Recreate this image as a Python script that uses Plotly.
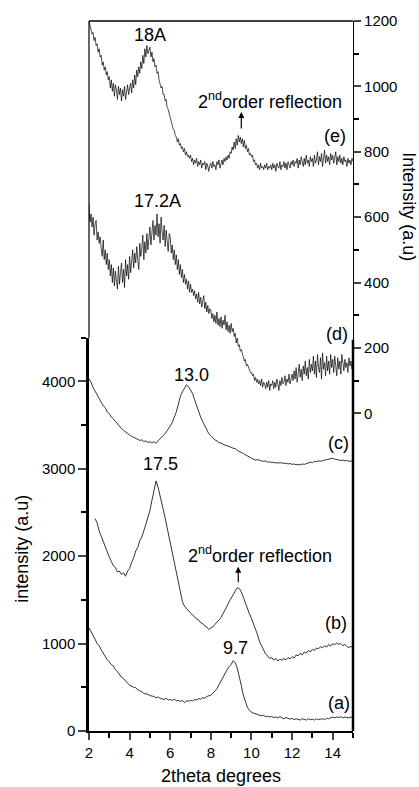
import numpy as np
import plotly.graph_objects as go

# 2theta grids (degrees)
two_theta = np.round(np.arange(2.0, 15.05, 0.1), 2)       # 0.1 step, curves a-c
two_theta_f = np.round(np.arange(2.0, 15.001, 0.05), 2)   # 0.05 step, curves d-e

# (a) - left axis
int_a = [1180,1140,1085,1050,1000,975,930,890,860,815,
         790,760,745,700,680,640,615,600,570,545,
         525,510,500,495,470,460,450,430,425,420,
         405,400,395,380,390,375,370,360,375,355,
         360,350,365,345,350,340,350,325,345,340,
         350,345,360,355,370,365,380,375,395,400,
         410,430,455,485,530,575,610,650,700,735,
         760,805,780,720,630,520,410,325,270,240,
         215,205,195,190,180,175,180,165,170,160,
         165,155,160,150,165,150,140,155,145,135,
         145,130,140,135,125,140,130,125,140,130,
         135,125,140,130,135,140,130,145,140,150,
         160,150,160,155,165,150,160,155,150,160,
         155]

# (b) - left axis, starts at 2.3 deg
int_b = [2430,2380,2290,2230,2160,2100,2030,
         1990,1940,1890,1870,1820,1830,1790,1810,1770,1830,
         1860,1930,1980,2060,2100,2180,2220,2290,2360,2440,
         2520,2640,2760,2860,2790,2700,2580,2490,2380,2270,
         2170,2060,1950,1830,1700,1580,1480,1430,1400,1370,
         1350,1330,1300,1280,1270,1240,1230,1200,1190,1160,
         1180,1190,1220,1240,1270,1300,1340,1380,1430,1480,
         1520,1570,1600,1640,1630,1590,1530,1460,1390,1340,
         1290,1230,1170,1100,1020,970,930,880,860,830,
         840,810,830,800,820,810,830,815,840,825,
         850,835,870,860,890,870,905,890,920,905,
         935,920,950,940,965,950,975,960,990,970,
         1000,985,1010,990,1000,975,990,965,955,970,
         945]

# (c) - left axis
int_c = [4030,3990,3930,3890,3850,3800,3770,3720,3700,3650,
         3630,3590,3570,3540,3510,3480,3460,3440,3420,3400,
         3390,3370,3360,3345,3340,3325,3330,3310,3320,3300,
         3310,3295,3310,3290,3320,3340,3360,3390,3420,3450,
         3490,3530,3580,3650,3740,3830,3880,3920,3960,3940,
         3900,3860,3790,3720,3650,3590,3540,3490,3450,3400,
         3380,3350,3330,3320,3300,3295,3280,3270,3265,3250,
         3245,3235,3230,3210,3200,3190,3175,3160,3150,3135,
         3120,3110,3100,3105,3095,3090,3085,3090,3075,3080,
         3070,3075,3065,3070,3065,3070,3060,3065,3055,3060,
         3050,3055,3045,3050,3045,3055,3050,3060,3065,3075,
         3070,3085,3080,3090,3085,3095,3100,3105,3110,3115,
         3120,3110,3105,3100,3095,3100,3090,3095,3085,3090,
         3085]

# (d) - right axis, 0.05 step
int_d = [640,585,610,570,600,545,580,590,530,555,520,540,505,480,530,470,500,455,490,440,
         470,420,455,400,445,390,435,410,380,450,395,430,460,400,440,385,470,420,455,410,
         480,430,465,500,445,490,460,510,470,440,520,480,505,545,470,525,490,550,500,535,
         570,515,560,590,530,575,545,610,540,580,520,600,555,530,575,510,560,535,495,550,
         540,490,515,470,500,455,485,440,470,425,455,415,440,400,425,395,410,380,405,370,
         395,370,380,360,375,350,365,340,370,335,355,325,345,360,320,340,310,330,305,320,
         315,290,305,280,300,275,310,270,290,265,295,260,285,270,300,255,280,250,270,245,
         275,250,260,235,245,215,230,205,210,190,195,180,175,160,165,145,150,140,135,125,
         125,115,120,100,110,95,105,90,100,85,105,80,95,90,75,95,80,100,70,90,
         85,100,75,95,80,105,90,70,100,85,110,90,95,115,85,105,95,120,90,110,
         120,100,130,105,140,95,125,150,110,135,100,145,120,160,115,140,105,165,125,150,
         130,175,120,160,110,180,140,125,170,105,185,135,155,115,175,130,160,120,180,140,
         165,125,175,140,115,170,135,160,120,180,145,130,165,140,155,125,170,145,160,135,
         150]

# (e) - right axis, 0.05 step
int_e = [1200,1185,1175,1160,1165,1140,1150,1125,1130,1105,1115,1090,1095,1065,1075,1050,1060,1035,1045,1020,
         1030,995,1020,985,1010,970,1005,990,960,1000,975,995,955,990,970,1000,960,985,1005,975,
         995,1010,980,1020,995,1035,1005,1050,1030,1060,1040,1075,1055,1095,1070,1115,1090,1125,1100,1110,
         1120,1090,1105,1075,1085,1060,1065,1040,1045,1020,1010,995,1000,975,975,955,960,935,930,915,
         910,895,880,870,865,850,845,830,840,820,825,810,815,800,810,790,800,785,790,780,
         790,770,780,760,775,765,780,755,770,760,775,750,765,760,770,745,765,755,740,760,
         765,750,770,755,760,745,770,760,775,750,765,775,760,780,770,785,775,790,780,800,
         795,815,805,830,810,840,820,850,830,845,825,840,815,835,810,820,800,810,790,795,
         785,790,770,775,760,765,750,760,745,765,750,755,745,760,750,765,745,755,750,760,
         745,765,750,760,740,765,755,750,770,745,760,755,770,750,765,745,770,760,750,770,
         760,775,755,770,765,780,750,775,760,785,765,755,780,760,790,765,775,755,785,770,
         780,755,790,765,775,800,760,785,770,795,755,780,805,765,790,770,785,760,795,775,
         790,765,780,800,760,785,770,790,765,780,760,785,770,775,755,780,765,775,760,780,
         770]

x_ticks = [2, 4, 6, 8, 10, 12, 14]
left_ticks = [0, 1000, 2000, 3000, 4000]
right_ticks = [0, 200, 400, 600, 800, 1000, 1200]
right_minor = [100, 300, 500, 700, 900, 1100]

FONT = "Liberation Sans, Arial, sans-serif"
W, H = 419, 787
L, R, T, B = 89, 66, 18, 56
PW, PH = W - L - R, H - T - B

def px(xpix):
    return (xpix - L) / PW

def py(ypix):
    return (H - B - ypix) / PH

lower_top = py(336)

fig = go.Figure()
line = dict(color="black", width=0.8)
fig.add_trace(go.Scatter(x=two_theta, y=int_a, mode="lines", line=line, yaxis="y"))
fig.add_trace(go.Scatter(x=two_theta[3:], y=int_b, mode="lines", line=line, yaxis="y"))
fig.add_trace(go.Scatter(x=two_theta, y=int_c, mode="lines", line=line, yaxis="y"))
fig.add_trace(go.Scatter(x=two_theta_f, y=int_d, mode="lines", line=dict(color="black", width=0.7), yaxis="y2"))
fig.add_trace(go.Scatter(x=two_theta_f, y=int_e, mode="lines", line=dict(color="black", width=0.7), yaxis="y2"))

ann_font = dict(family=FONT, size=18, color="black")
annotations = [
    dict(x=5.0, y=1157, xref="x", yref="y2", text="18A"),
    dict(x=10.93, y=956, xref="x", yref="y2", text="2<sup>nd</sup>order reflection"),
    dict(x=14.09, y=847, xref="x", yref="y2", text="(e)"),
    dict(x=5.35, y=649, xref="x", yref="y2", text="17.2A"),
    dict(x=14.23, y=244, xref="x", yref="y2", text="(d)"),
    dict(x=7.03, y=4078, xref="x", yref="y", text="13.0"),
    dict(x=14.28, y=3292, xref="x", yref="y", text="(c)"),
    dict(x=5.5, y=3053, xref="x", yref="y", text="17.5"),
    dict(x=10.44, y=2016, xref="x", yref="y", text="2<sup>nd</sup>order reflection"),
    dict(x=14.14, y=1230, xref="x", yref="y", text="(b)"),
    dict(x=9.2, y=946, xref="x", yref="y", text="9.7"),
    dict(x=14.33, y=319, xref="x", yref="y", text="(a)"),
]
for a in annotations:
    a.update(showarrow=False, font=ann_font, xanchor="center", yanchor="middle")

# arrows
annotations.append(dict(x=9.5, y=922, xref="x", yref="y2", text="", showarrow=True,
                        ax=0, ay=18, arrowhead=2, arrowsize=1, arrowwidth=1.2, arrowcolor="black"))
annotations.append(dict(x=9.35, y=1880, xref="x", yref="y", text="", showarrow=True,
                        ax=0, ay=17, arrowhead=2, arrowsize=1, arrowwidth=1.2, arrowcolor="black"))

# axis titles
annotations.append(dict(x=0.5, y=py(776), xref="paper", yref="paper", text="2theta degrees",
                        showarrow=False, font=ann_font, xanchor="center", yanchor="middle"))
annotations.append(dict(x=px(22), y=py(548), xref="paper", yref="paper", text="intensity (a.u)",
                        showarrow=False, font=ann_font, textangle=-90, xanchor="center", yanchor="middle"))
annotations.append(dict(x=px(409), y=py(204), xref="paper", yref="paper", text="Intensity (a.u)",
                        showarrow=False, font=ann_font, textangle=90, xanchor="center", yanchor="middle"))

shapes = [
    # top border
    dict(type="line", xref="paper", yref="paper", x0=0, x1=1, y0=1, y1=1,
         line=dict(color="black", width=1.5)),
    # thin upper-left border
    dict(type="line", xref="paper", yref="paper", x0=0, x1=0, y0=lower_top, y1=1,
         line=dict(color="black", width=1.2)),
    # thick lower-right border
    dict(type="line", xref="paper", yref="paper", x0=1, x1=1, y0=0, y1=py(338),
         line=dict(color="black", width=2.5)),
]

fig.update_layout(
    width=W, height=H,
    margin=dict(l=L, r=R, t=T, b=B),
    paper_bgcolor="white", plot_bgcolor="rgba(0,0,0,0)",
    showlegend=False,
    font=dict(family=FONT, size=15, color="black"),
    xaxis=dict(range=[2, 15], tickvals=x_ticks, ticks="outside", ticklen=7, tickwidth=1.5,
               showline=True, linewidth=2, linecolor="black", showgrid=False, zeroline=False,
               minor=dict(dtick=1, ticks="outside", ticklen=5, tickwidth=1.5, tickcolor="black"),
               tickfont=dict(size=15), anchor="y"),
    yaxis=dict(domain=[0, lower_top], range=[0, 4500], tickvals=left_ticks, ticks="outside",
               ticklen=8, tickwidth=1.5, showline=True, linewidth=2.5, linecolor="black",
               showgrid=False, zeroline=False,
               minor=dict(dtick=500, ticks="outside", ticklen=5, tickwidth=1.5, tickcolor="black"),
               tickfont=dict(size=15), anchor="x"),
    yaxis2=dict(domain=[0, 1], range=[-971.6, 1200], side="right", anchor="x",
                tickvals=right_ticks, ticks="outside", ticklen=7, tickwidth=1.5,
                showline=True, linewidth=1.2, linecolor="black", showgrid=False, zeroline=False,
                minor=dict(tickvals=right_minor, ticks="outside", ticklen=5, tickwidth=1.5,
                           tickcolor="black"),
                tickfont=dict(size=15)),
    annotations=annotations,
    shapes=shapes,
)

fig.write_html("out.html", config={"displayModeBar": False},
               post_script="document.body.style.margin='0';document.body.style.overflow='hidden';")
